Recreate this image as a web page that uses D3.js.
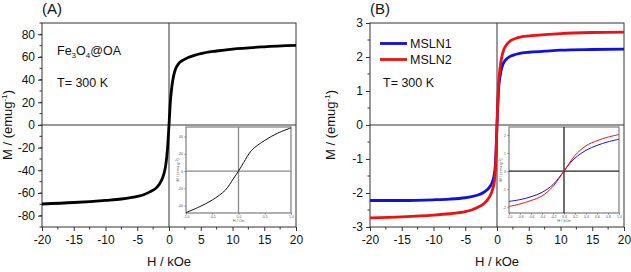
<!DOCTYPE html>
<html>
<head>
<meta charset="utf-8">
<script src="https://cdn.jsdelivr.net/npm/d3@7"></script>
<style>
  body { margin: 0; background: #fff; }
  svg { display: block; font-family: "Liberation Sans", Arial, sans-serif; }
</style>
</head>
<body>
<div id="chart"></div>
<script>
// ---- data ----
var fieldA = [-20, -15, -10, -7.5, -5, -4, -3, -2, -1.5, -1, -0.75, -0.5, -0.25, 0, 0.25, 0.5, 0.75, 1, 1.5, 2, 3, 4, 5, 7.5, 10, 15, 20];
var momentA = [-69.7, -68.4, -66.5, -65.3, -63, -61.5, -59, -55.5, -52, -46.5, -42, -35, -22, 0, 23, 36, 44, 49, 54, 56.5, 59.5, 61.5, 63, 65.3, 67, 69, 70.2];

var insetFieldA = [-1, -0.75, -0.5, -0.25, -0.1, 0, 0.1, 0.25, 0.5, 0.75, 1];
var insetMomentA = [-48, -41.5, -33.5, -22, -9, 0, 10, 24, 35.5, 44, 50];

var fieldB = [-20, -15, -10, -7.5, -5, -4, -3, -2, -1.5, -1, -0.75, -0.5, -0.25, 0, 0.25, 0.5, 0.75, 1, 1.5, 2, 3, 4, 5, 7.5, 10, 15, 20];
var msln1 = [-2.22, -2.22, -2.2, -2.18, -2.14, -2.11, -2.06, -1.97, -1.9, -1.78, -1.68, -1.52, -1.15, 0, 1.05, 1.45, 1.68, 1.81, 1.94, 2.01, 2.08, 2.12, 2.14, 2.17, 2.2, 2.22, 2.23];
var msln2 = [-2.73, -2.7, -2.65, -2.61, -2.55, -2.5, -2.42, -2.3, -2.2, -2.05, -1.93, -1.75, -1.35, 0, 1.2, 1.7, 2.0, 2.18, 2.36, 2.46, 2.55, 2.6, 2.62, 2.66, 2.69, 2.72, 2.73];

var insetFieldB = [-1, -0.8, -0.6, -0.4, -0.2, -0.1, 0, 0.1, 0.2, 0.4, 0.6, 0.8, 1];
var insetMsln1 = [-1.68, -1.58, -1.42, -1.18, -0.75, -0.4, 0, 0.4, 0.72, 1.15, 1.42, 1.62, 1.76];
var insetMsln2 = [-1.96, -1.82, -1.63, -1.38, -0.85, -0.45, 0, 0.45, 0.87, 1.4, 1.68, 1.88, 2.02];

var xTicks = [-20, -15, -10, -5, 0, 5, 10, 15, 20];
var yTicksA = [-80, -60, -40, -20, 0, 20, 40, 60, 80];
var yTicksB = [-3, -2, -1, 0, 1, 2, 3];
var insetXTicksA = [-1, -0.5, 0, 0.5, 1];
var insetYTicksA = [-40, -20, 0, 20, 40];
var insetXTicksB = [-1, -0.8, -0.6, -0.4, -0.2, 0, 0.2, 0.4, 0.6, 0.8, 1];
var insetYTicksB = [-2, -1, 0, 1, 2];

var series = ["MSLN1", "MSLN2"];
var colors = ["#1010e0", "#ee1111"];

var width = 631, height = 272;

var svg = d3.select("#chart").append("svg")
  .attr("width", width)
  .attr("height", height);

function zip(xs, ys) {
  return xs.map(function(d, i) { return { h: d, m: ys[i] }; });
}

// plain hyphen minus, as in the picture
function plain(d) { return String(d); }
function oneDec(d) { return d.toFixed(1); }

// main panel: frame, zero lines, ticks, labels
function drawPanel(left, right, top, bottom, yDomain, yTicks, yMinor, letter, titleOffset) {
  var x = d3.scaleLinear().domain([-20, 20]).range([left, right]);
  var y = d3.scaleLinear().domain(yDomain).range([bottom, top]);

  var g = svg.append("g");

  g.append("line")
    .attr("x1", x(0)).attr("x2", x(0))
    .attr("y1", top).attr("y2", bottom)
    .attr("stroke", "#333").attr("stroke-width", 1);
  g.append("line")
    .attr("x1", left).attr("x2", right)
    .attr("y1", y(0)).attr("y2", y(0))
    .attr("stroke", "#333").attr("stroke-width", 1);

  var xAxis = g.append("g")
    .attr("transform", "translate(0," + bottom + ")")
    .call(d3.axisBottom(x).tickValues(xTicks).tickSize(4).tickPadding(4).tickFormat(plain));
  xAxis.select(".domain").remove();
  xAxis.selectAll("text").attr("font-size", 12).attr("fill", "#111");
  xAxis.selectAll(".tick line").attr("stroke", "#333");

  var xMinor = d3.range(-17.5, 20, 5);
  g.selectAll(".xminor").data(xMinor).enter().append("line")
    .attr("x1", function(d) { return x(d); }).attr("x2", function(d) { return x(d); })
    .attr("y1", bottom).attr("y2", bottom + 2.5)
    .attr("stroke", "#333");

  var yAxis = g.append("g")
    .attr("transform", "translate(" + left + ",0)")
    .call(d3.axisLeft(y).tickValues(yTicks).tickSize(4).tickPadding(3).tickFormat(plain));
  yAxis.select(".domain").remove();
  yAxis.selectAll("text").attr("font-size", 12).attr("fill", "#111");
  yAxis.selectAll(".tick line").attr("stroke", "#333");

  g.selectAll(".yminor").data(yMinor).enter().append("line")
    .attr("x1", left - 2.5).attr("x2", left)
    .attr("y1", function(d) { return y(d); }).attr("y2", function(d) { return y(d); })
    .attr("stroke", "#333");

  g.append("rect")
    .attr("x", left).attr("y", top)
    .attr("width", right - left).attr("height", bottom - top)
    .attr("fill", "none").attr("stroke", "#333").attr("stroke-width", 1);

  g.append("text")
    .attr("x", (left + right) / 2).attr("y", 266)
    .attr("text-anchor", "middle").attr("font-size", 13).attr("fill", "#111")
    .text("H / kOe");

  var yt = g.append("text")
    .attr("transform", "translate(" + (left - titleOffset) + "," + ((top + bottom) / 2) + ") rotate(-90)")
    .attr("text-anchor", "middle").attr("font-size", 13).attr("fill", "#111");
  yt.append("tspan").text("M / (emug");
  yt.append("tspan").attr("font-size", 8).attr("dy", -5).text("-1");
  yt.append("tspan").attr("dy", 5).text(")");

  g.append("text")
    .attr("x", left).attr("y", 14)
    .attr("font-size", 15).attr("fill", "#111")
    .text(letter);

  return { x: x, y: y, g: g };
}

function drawInset(left, right, top, bottom, yDomain, xT, yT, frameColor, zeroColor, xLabel) {
  var x = d3.scaleLinear().domain([-1, 1]).range([left, right]);
  var y = d3.scaleLinear().domain(yDomain).range([bottom, top]);
  var g = svg.append("g");

  g.append("rect")
    .attr("x", left).attr("y", top)
    .attr("width", right - left).attr("height", bottom - top)
    .attr("fill", "#fff").attr("stroke", frameColor).attr("stroke-width", 1.3);

  g.append("line")
    .attr("x1", x(0)).attr("x2", x(0)).attr("y1", top).attr("y2", bottom)
    .attr("stroke", zeroColor).attr("stroke-width", 1.3);
  g.append("line")
    .attr("x1", left).attr("x2", right).attr("y1", y(0)).attr("y2", y(0))
    .attr("stroke", zeroColor).attr("stroke-width", 1.3);

  var xa = g.append("g")
    .attr("transform", "translate(0," + bottom + ")")
    .call(d3.axisBottom(x).tickValues(xT).tickSize(1.5).tickPadding(1).tickFormat(oneDec));
  xa.select(".domain").remove();
  xa.selectAll("text").attr("font-size", 3.5).attr("fill", "#555");
  xa.selectAll(".tick line").attr("stroke", "#777");

  var ya = g.append("g")
    .attr("transform", "translate(" + left + ",0)")
    .call(d3.axisLeft(y).tickValues(yT).tickSize(1.5).tickPadding(1.5).tickFormat(plain));
  ya.select(".domain").remove();
  ya.selectAll("text").attr("font-size", 3.5).attr("fill", "#555");
  ya.selectAll(".tick line").attr("stroke", "#777");

  g.append("text")
    .attr("x", (left + right) / 2).attr("y", bottom + 8.5)
    .attr("text-anchor", "middle").attr("font-size", 4).attr("fill", "#555")
    .text(xLabel);

  var yl = g.append("text")
    .attr("transform", "translate(" + (left - 7) + "," + ((top + bottom) / 2) + ") rotate(-90)")
    .attr("text-anchor", "middle").attr("font-size", 4).attr("fill", "#555");
  yl.append("tspan").text("M / (emu g");
  yl.append("tspan").attr("font-size", 3).attr("dy", -1.5).text("-1");
  yl.append("tspan").attr("dy", 1.5).text(")");

  return { x: x, y: y, g: g };
}

var curve = d3.curveMonotoneX;

// ---- panel A ----
var pA = drawPanel(42, 296, 23, 227, [-90, 90], yTicksA, d3.range(-90, 91, 10), "(A)", 30);

pA.g.append("path")
  .datum(zip(fieldA, momentA))
  .attr("fill", "none").attr("stroke", "#000").attr("stroke-width", 2.8)
  .attr("d", d3.line().curve(curve)
    .x(function(d) { return pA.x(d.h); })
    .y(function(d) { return pA.y(d.m); }));

var fe = pA.g.append("text").attr("x", 57).attr("y", 55).attr("font-size", 12.5).attr("fill", "#111");
fe.append("tspan").text("Fe");
fe.append("tspan").attr("font-size", 8).attr("dy", 3).text("3");
fe.append("tspan").attr("dy", -3).text("O");
fe.append("tspan").attr("font-size", 8).attr("dy", 3).text("4");
fe.append("tspan").attr("dy", -3).text("@OA");

pA.g.append("text").attr("x", 57).attr("y", 87).attr("font-size", 12.5).attr("fill", "#111").text("T= 300 K");

var iA = drawInset(186, 291, 127, 213, [-48.5, 51], insetXTicksA, insetYTicksA, "#888", "#888", "H / Oe");
iA.g.append("path")
  .datum(zip(insetFieldA, insetMomentA))
  .attr("fill", "none").attr("stroke", "#111").attr("stroke-width", 1)
  .attr("d", d3.line().curve(d3.curveCatmullRom)
    .x(function(d) { return iA.x(d.h); })
    .y(function(d) { return iA.y(d.m); }));

// ---- panel B ----
var pB = drawPanel(370, 624, 23, 227, [-3, 3], yTicksB, d3.range(-2.5, 3, 1), "(B)", 35);

var mainB = [msln1, msln2];
mainB.forEach(function(vals, i) {
  pB.g.append("path")
    .datum(zip(fieldB, vals))
    .attr("fill", "none").attr("stroke", colors[i]).attr("stroke-width", 2.8)
    .attr("d", d3.line().curve(curve)
      .x(function(d) { return pB.x(d.h); })
      .y(function(d) { return pB.y(d.m); }));
});

var legend = pB.g.selectAll(".legend").data(series).enter().append("g")
  .attr("transform", function(d, i) { return "translate(380," + (43.5 + i * 16) + ")"; });
legend.append("line")
  .attr("x1", 0).attr("x2", 27).attr("y1", 0).attr("y2", 0)
  .attr("stroke", function(d, i) { return colors[i]; }).attr("stroke-width", 2.8);
legend.append("text")
  .attr("x", 30).attr("y", 4.5).attr("font-size", 12.5).attr("fill", "#111")
  .text(function(d) { return d; });

pB.g.append("text").attr("x", 383).attr("y", 87).attr("font-size", 12.5).attr("fill", "#111").text("T= 300 K");

var iB = drawInset(509, 619, 127, 213, [-2.32, 2.44], insetXTicksB, insetYTicksB, "#888", "#222", "H / kOe");
[insetMsln1, insetMsln2].forEach(function(vals, i) {
  iB.g.append("path")
    .datum(zip(insetFieldB, vals))
    .attr("fill", "none").attr("stroke", colors[i]).attr("stroke-width", 1)
    .attr("d", d3.line().curve(d3.curveCatmullRom)
      .x(function(d) { return iB.x(d.h); })
      .y(function(d) { return iB.y(d.m); }));
});
</script>
</body>
</html>
